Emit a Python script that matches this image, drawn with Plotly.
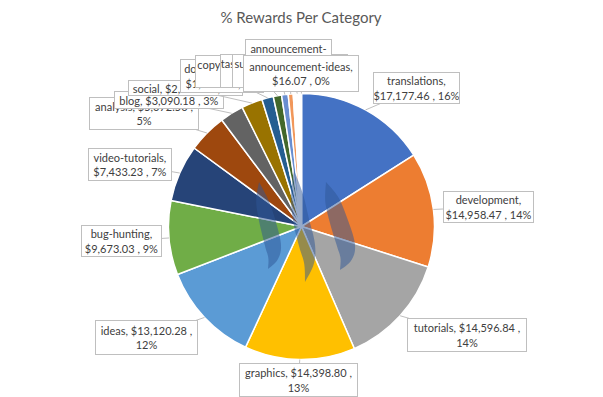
import math
import plotly.graph_objects as go

# ---------------- data ----------------
categories = [
    "translations", "development", "tutorials", "graphics", "ideas",
    "bug-hunting", "video-tutorials", "analysis", "blog", "social",
    "documentation", "copywriting", "task-requests", "sub-projects",
    "announcement-development", "announcement-ideas",
]
rewards = [
    17177.46, 14958.47, 14596.84, 14398.80, 13120.28,
    9673.03, 7433.23, 5072.50, 3090.18, 2745.00,
    1500.00, 1080.00, 860.00, 650.00,
    1050.00, 16.07,
]
title_text = "% Rewards Per Category"

# ---------------- style ----------------
colors = [
    "#4472C4", "#ED7D31", "#A5A5A5", "#FFC000", "#5B9BD5",
    "#70AD47", "#264478", "#9E480E", "#636363", "#997300",
    "#255E91", "#43682B", "#698ED0", "#F1975A",
    "#FFFFFF", "#FFCD33",
]
# how each label wraps
wraps = ["name", "name", "pct", "pct", "pct", "name", "name", "pct", "none", "none",
         "name", "pct", "pct", "pct", "name2", "name"]
# label boxes in window pixels: (left, top, width, height)
boxes = [
    (373, 72, 87, 32),
    (443, 191, 91, 32),
    (407, 318, 120, 34),
    (239, 363, 119, 34),
    (95, 320, 103, 35),
    (81, 225, 81, 32),
    (88, 148, 84, 33),
    (89, 97, 110, 33),
    (114, 91, 110, 18),
    (128, 80, 115, 16),
    (180, 59, 84, 34),
    (195, 55, 122, 33),
    (220, 54, 118, 34),
    (232, 54, 116, 34),
    (245, 39, 87, 48),
    (243, 55, 116, 37),
]

W, H = 603, 397
OFF = 8            # page body margin of the rendered html
CX, CY, R = 301.5, 226.5, 133.0   # pie centre / radius in window pixels
FONT = "Lato, 'Open Sans', sans-serif"
TXT = "#404040"
LINE = "#BFBFBF"

total = sum(rewards)


def fx(x):  # window px -> paper x
    return (x - OFF) / W


def fy(y):  # window px -> paper y
    return 1 - (y - OFF) / H


def fmt_label(name, v, wrap):
    val = "${:,.2f}".format(v)
    pct = "{}%".format(int(round(v / total * 100)))
    if wrap == "name":
        return f"{name},<br>{val} , {pct}"
    if wrap == "name2":
        a, b = name.split("-", 1)
        return f"{a}-<br>{b},<br>{val} , {pct}"
    if wrap == "pct":
        return f"{name}, {val} ,<br>{pct}"
    return f"{name}, {val} , {pct}"


fig = go.Figure()
fig.add_trace(go.Pie(
    labels=categories,
    values=rewards,
    sort=False,
    direction="clockwise",
    rotation=0,
    marker=dict(colors=colors, line=dict(color="white", width=1.5)),
    textinfo="none",
    hoverinfo="label+value+percent",
    showlegend=False,
    domain=dict(x=[fx(CX - R), fx(CX + R)], y=[fy(CY + R), fy(CY - R)]),
))

annotations = []
cum = 0.0
for name, v, wrap, (bl, bt, bw, bh) in zip(categories, rewards, wraps, boxes):
    theta = 2 * math.pi * (cum + v / 2) / total
    cum += v
    hx = CX + R * math.sin(theta)
    hy = CY - R * math.cos(theta)
    bx = bl + bw / 2
    by = bt + bh / 2
    annotations.append(dict(
        x=fx(hx), y=fy(hy), xref="paper", yref="paper",
        ax=bx - hx, ay=by - hy, axref="pixel", ayref="pixel",
        showarrow=True, arrowhead=0, arrowwidth=1, arrowcolor=LINE, standoff=0,
        text=fmt_label(name, v, wrap),
        font=dict(family=FONT, size=11, color=TXT),
        align="center", valign="middle",
        bgcolor="white", bordercolor=LINE, borderwidth=1, borderpad=0,
        width=bw - 2, height=bh - 2,
    ))


# ---------------- decorative translucent logo ----------------
def catmull(pts, n=8):
    out = []
    P = [pts[0]] + pts + [pts[-1]]
    for i in range(1, len(P) - 2):
        p0, p1, p2, p3 = P[i - 1], P[i], P[i + 1], P[i + 2]
        for k in range(n):
            t = k / n
            t2, t3 = t * t, t * t * t
            out.append(tuple(
                0.5 * (2 * p1[j] + (-p0[j] + p2[j]) * t
                       + (2 * p0[j] - 5 * p1[j] + 4 * p2[j] - p3[j]) * t2
                       + (-p0[j] + 3 * p1[j] - 3 * p2[j] + p3[j]) * t3)
                for j in range(3)))
    out.append(pts[-1])
    return out


blades = [
    [(259, 182, 0), (262, 200, 6), (267, 220, 8), (273, 245, 8), (273, 258, 5), (268, 269, 0)],
    [(294, 170, 0), (297, 195, 6), (301, 220, 8), (307, 245, 8), (309, 263, 5), (305, 282, 0)],
    [(326, 182, 0), (332, 200, 7), (339, 222, 9), (346, 245, 9), (346, 258, 6), (340, 270, 0)],
]
shapes = []
for bpts in blades:
    c = catmull(bpts)
    left, right = [], []
    for i, (x, y, w) in enumerate(c):
        a = c[max(i - 1, 0)]
        b = c[min(i + 1, len(c) - 1)]
        dx, dy = b[0] - a[0], b[1] - a[1]
        L = math.hypot(dx, dy) or 1
        nx, ny = -dy / L, dx / L
        left.append((fx(x + nx * w), fy(y + ny * w)))
        right.append((fx(x - nx * w), fy(y - ny * w)))
    poly = left + right[::-1]
    path = "M " + " L ".join(f"{p[0]:.5f},{p[1]:.5f}" for p in poly) + " Z"
    shapes.append(dict(type="path", path=path, xref="paper", yref="paper",
                       fillcolor="rgba(45,85,150,0.5)", line=dict(width=0),
                       layer="above"))

fig.update_layout(
    width=W, height=H,
    margin=dict(l=0, r=0, t=0, b=0),
    paper_bgcolor="white", plot_bgcolor="white",
    title=dict(text=title_text, x=fx(301), xanchor="center",
               y=fy(18), yanchor="middle",
               font=dict(family=FONT, size=15, color="#595959")),
    annotations=annotations,
    shapes=shapes,
)

fig.write_html("out.html")
